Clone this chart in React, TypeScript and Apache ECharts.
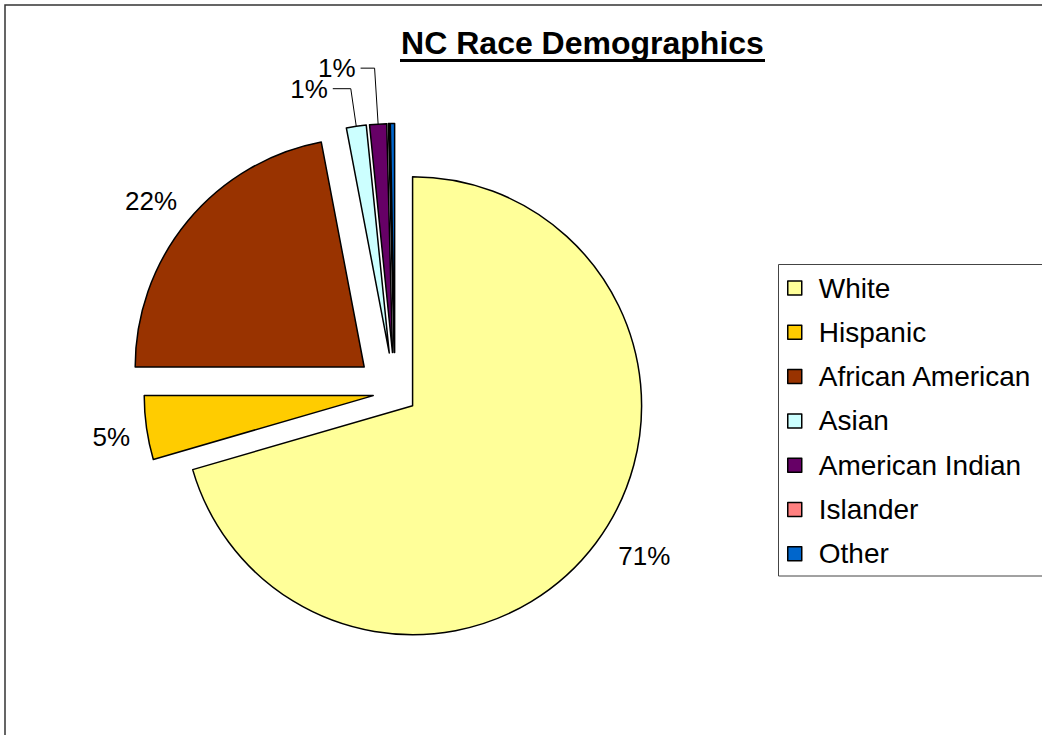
import React, { useEffect, useRef } from 'react';
import * as echarts from 'echarts';

// ---- data ----
const categories = ['White', 'Hispanic', 'African American', 'Asian', 'American Indian', 'Islander', 'Other'];
const shares = [70.5, 4.5, 22.0, 1.4, 1.2, 0.1, 0.3];
const labelShown = [true, true, true, true, true, false, false];
const titleText = 'NC Race Demographics';

// ---- styles ----
const sliceColors = ['#FFFF99', '#FFCC00', '#993300', '#CCFFFF', '#660066', '#FF8080', '#0066CC'];
// [labelLine length, length2, show line]
const labelLines: [number, number, boolean][] = [
  [22, 0, false],
  [64, -52, false],
  [32, -19, false],
  [38, 18, true],
  [56, 14, true],
  [10, 10, false],
  [10, 10, false],
];
const innerCount = 2; // White & Hispanic exploded less
const FONT = '"Liberation Sans", Arial, Helvetica, sans-serif';

const total = shares.reduce((a, b) => a + b, 0);

function item(i: number) {
  const [len, len2, show] = labelLines[i];
  return {
    name: categories[i],
    value: shares[i],
    selected: true,
    itemStyle: { color: sliceColors[i] },
    label: { show: labelShown[i] },
    labelLine: { show, length: len, length2: len2 },
  };
}

function placeholder(value: number) {
  return {
    name: '',
    value,
    selected: false,
    itemStyle: { color: 'rgba(0,0,0,0)', borderWidth: 0 },
    label: { show: false },
    labelLine: { show: false },
  };
}

function baseSeries(offset: number, data: any[]) {
  return {
    type: 'pie',
    center: [395, 392.5],
    radius: 229,
    startAngle: 90,
    clockwise: true,
    selectedMode: 'multiple',
    selectedOffset: offset,
    avoidLabelOverlap: false,
    silent: true,
    itemStyle: { borderColor: '#000', borderWidth: 1.5 },
    select: { itemStyle: { borderColor: '#000', borderWidth: 1.5 } },
    emphasis: { disabled: true },
    labelLayout: { hideOverlap: false },
    label: {
      position: 'outside',
      alignTo: 'none',
      distanceToLabelLine: 5,
      color: '#000',
      fontSize: 26,
      lineHeight: 18,
      fontFamily: FONT,
      formatter: (p: any) => Math.round((p.value / total) * 100) + '%',
    },
    labelLine: { smooth: false, lineStyle: { color: '#000', width: 1 } },
    data,
  };
}

export default function App() {
  const ref = useRef<HTMLDivElement>(null);
  useEffect(() => {
    if (!ref.current) return;
    const chart = echarts.init(ref.current, undefined, { renderer: 'svg' });
    const innerData = categories.slice(0, innerCount).map((_, i) => item(i));
    const outerData = categories.slice(innerCount).map((_, k) => item(k + innerCount));
    const innerSum = shares.slice(0, innerCount).reduce((a, b) => a + b, 0);
    const outerSum = shares.slice(innerCount).reduce((a, b) => a + b, 0);

    chart.setOption({
      animation: false,
      backgroundColor: '#fff',
      legend: {
        data: categories,
        orient: 'vertical',
        left: 787,
        top: 273,
        padding: 0,
        itemWidth: 14,
        itemHeight: 14,
        itemGap: 14.3,
        icon: 'rect',
        selectedMode: false,
        itemStyle: { borderColor: '#000', borderWidth: 1.5 },
        textStyle: {
          color: '#000',
          fontSize: 28,
          fontFamily: FONT,
          lineHeight: 30,
          padding: [0, 0, 0, 12],
        },
      },
      graphic: [
        {
          type: 'rect',
          shape: { x: 5, y: 5, width: 1200, height: 1000 },
          style: { fill: 'none', stroke: '#333', lineWidth: 1.5 },
          silent: true,
        },
        {
          type: 'rect',
          shape: { x: 778.5, y: 264.5, width: 300, height: 311.5 },
          style: { fill: 'none', stroke: '#444', lineWidth: 1 },
          silent: true,
        },
        {
          type: 'text',
          x: 582.5,
          y: 43,
          style: {
            text: titleText,
            fill: '#000',
            font: `bold 32px ${FONT}`,
            align: 'center',
            verticalAlign: 'middle',
          },
          silent: true,
        },
        {
          type: 'rect',
          shape: { x: 400, y: 59, width: 365, height: 3 },
          style: { fill: '#000' },
          silent: true,
        },
      ],
      series: [
        baseSeries(22, [...innerData, placeholder(outerSum)]),
        baseSeries(40, [placeholder(innerSum), ...outerData]),
      ],
    });
    return () => chart.dispose();
  }, []);
  return (
    <div
      ref={ref}
      style={{ position: 'fixed', left: 0, top: 0, width: 1042, height: 735, background: '#fff' }}
    />
  );
}
